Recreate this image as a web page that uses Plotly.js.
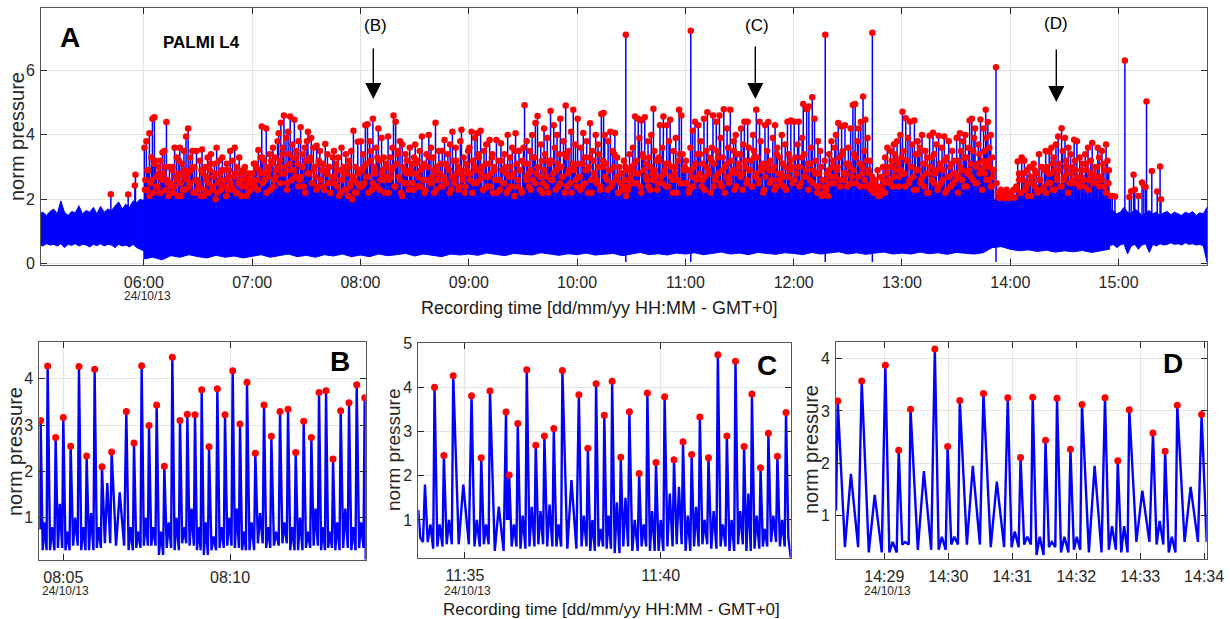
<!DOCTYPE html>
<html><head><meta charset="utf-8">
<script src="https://cdn.plot.ly/plotly-3.0.1.min.js"></script>
<style>html,body{margin:0;padding:0;background:#fff}#chart{width:1230px;height:619px}</style>
</head><body><div id="chart"></div>
<script>
// ===================== DATA =====================
// Panel A : quiet baseline before 06:00 (start 05:02, one sample every 2 min)
const preUpper = [1.55,1.6,1.5,1.62,1.7,1.55,1.95,1.6,1.5,1.62,1.58,1.8,1.55,1.65,1.6,1.75,1.55,1.78,1.6,1.7,1.65,1.8,1.92,1.7,1.85,1.75,1.95,1.9,2.0,1.95];
const preLower = [0.6,0.55,0.62,0.58,0.6,0.55,0.62,0.5,0.6,0.57,0.62,0.55,0.6,0.58,0.52,0.6,0.56,0.62,0.55,0.6,0.58,0.5,0.6,0.55,0.58,0.52,0.6,0.5,0.45,0.4];
// Panel A : lower edge of the active signal (06:00 .. 14:55, one sample every 5 min)
const activeLower = [
 0.15,0.2,0.12,0.25,0.2,0.28,0.22,0.18,0.26,0.2,0.24,0.18,
 0.22,0.28,0.2,0.25,0.3,0.22,0.26,0.2,0.28,0.24,0.3,0.22,
 0.27,0.22,0.3,0.25,0.28,0.32,0.24,0.3,0.26,0.22,0.3,0.27,
 0.3,0.26,0.33,0.28,0.25,0.32,0.29,0.27,0.34,0.3,0.26,0.31,
 0.28,0.33,0.27,0.3,0.32,0.25,0.3,0.35,0.28,0.31,0.27,0.33,
 0.3,0.34,0.28,0.32,0.36,0.3,0.33,0.28,0.35,0.31,0.29,0.34,
 0.32,0.28,0.35,0.3,0.33,0.37,0.3,0.34,0.29,0.33,0.36,0.3,
 0.33,0.3,0.36,0.31,0.34,0.29,0.35,0.32,0.3,0.34,0.5,0.53,
 0.45,0.4,0.43,0.38,0.42,0.36,0.4,0.37,0.41,0.35,0.39,0.45];
const activeTop = 2.0;
// Panel A : quiet baseline after 14:55 (one sample every 2 min)
const postUpper = [1.7,1.65,1.55,1.6,1.75,1.6,1.55,1.7,1.62,1.5,1.58,1.65,1.55,1.6,1.5,1.58,1.62,1.52,1.6,1.55,1.5,1.6,1.55,1.62,1.5,1.58,1.55,1.75];
const postLower = [0.55,0.6,0.5,0.58,0.62,0.3,0.55,0.6,0.45,0.58,0.62,0.35,0.6,0.55,0.62,0.58,0.6,0.65,0.6,0.62,0.58,0.65,0.6,0.62,0.58,0.6,0.55,0.05];

// Panel A : detected peaks, in time order, per window
const peaks0600 = [3.6,2.6,3.8,2.3,2.9,4.05,2.5,3.3,4.5,2.2,4.55,3.2,2.7,2.4,3.0,2.2,3.2,2.6,3.45,2.8,3.5,2.3,4.4,2.6,2.1,3.0,2.5];
const peaks0615 = [2.4,3.0,2.2,3.6,2.7,3.3,2.1,2.8,3.6,2.5,3.1,2.3,3.5,2.9,3.95,2.6,4.2,2.4,3.3,2.9,3.5,2.2,3.0,2.6,3.5,2.3];
const peaks0630 = [2.5,3.2,2.1,3.55,2.8,2.3,3.0,2.6,3.3,2.2,2.9,3.4,2.4,2.7,3.1,2.0,3.6,2.5,3.2,2.8,2.3,3.3,2.6,2.9];
const peaks0645 = [2.6,3.1,2.3,2.9,3.5,2.4,3.2,2.7,3.6,2.2,3.0,2.5,3.3,2.8,2.1,2.9,2.6,3.0,2.4,2.7,2.2,2.8,2.5,2.6];
const peaks0700 = [2.8,3.1,2.4,3.0,2.6,3.53,2.9,3.3,4.26,2.5,3.2,2.8,4.2,3.0,2.7,3.4,2.3,3.1,3.6,2.6,3.3,2.9,3.8,4.05];
const peaks0715 = [3.2,4.38,2.8,3.6,4.6,3.0,3.9,2.5,4.1,3.4,4.57,2.9,3.7,3.3,4.47,2.7,3.5,3.1,3.8,2.6,4.24,3.0,3.4,2.4,3.6,3.2];
const peaks0730 = [3.8,4.1,2.8,3.3,3.9,2.5,3.6,3.0,2.7,3.66,2.4,3.2,3.5,2.6,2.9,3.1,2.3,3.72,2.8,3.4,2.5,3.0,2.2,2.7,3.3];
const peaks0745 = [3.5,2.7,3.1,2.4,3.3,2.9,2.2,3.6,2.6,3.0,2.3,3.4,2.8,2.1,3.2,2.5,3.5,2.0,4.13,2.6,3.0,2.2,3.79,2.8,2.4];
const peaks0800 = [3.8,2.9,3.4,2.5,4.3,3.1,4.33,2.7,3.8,3.5,2.3,4.5,3.0,2.8,3.6,2.4,4.2,3.2,2.6,3.9,2.9,3.3,2.2,3.0,2.7];
const peaks0815 = [3.95,2.6,3.3,2.9,3.6,4.6,2.4,4.41,3.1,3.5,2.7,3.8,2.2,3.7,3.0,2.5,3.4,2.8,3.2,2.3,3.6,2.9,3.1,2.5,3.3];
const peaks0830 = [3.7,2.8,3.2,2.4,3.5,2.9,3.95,2.6,3.1,2.3,3.4,3.0,4.0,2.5,3.6,2.7,3.3,2.2,4.38,3.0,2.6,3.5,2.8,2.4];
const peaks0845 = [3.5,2.7,3.84,3.1,2.5,3.4,2.9,3.7,2.3,4.1,3.2,2.6,3.6,2.8,3.0,2.4,3.8,4.16,2.7,3.3,2.2,3.1,2.9,3.5];
const peaks0900 = [3.6,2.8,4.1,3.2,2.5,3.9,2.9,4.05,3.4,2.6,4.13,3.0,2.3,3.5,2.7,3.7,2.4,3.1,3.84,2.8,3.3,2.2,3.0,2.6];
const peaks0915 = [3.84,2.6,3.2,2.3,3.74,2.9,2.5,3.4,3.0,2.2,4.0,2.7,3.3,2.4,3.6,2.8,2.1,4.05,3.1,2.6,3.5,2.9,2.3,3.2];
const peaks0930 = [3.6,4.92,2.7,3.8,3.1,2.4,3.5,2.9,4.0,2.6,3.3,4.37,2.8,4.59,3.0,2.3,3.7,3.2,2.5,4.2,3.4,2.7,3.9,2.2,3.1];
const peaks0945 = [4.74,3.2,2.6,4.3,3.6,2.9,4.0,2.4,3.4,4.5,3.0,2.7,3.8,2.2,4.91,3.3,2.8,3.5,2.5,4.1,3.1,4.78,2.9,3.7,2.4];
const peaks1000 = [4.5,3.1,2.7,3.6,2.4,4.06,3.3,2.9,3.8,2.2,3.0,4.36,2.6,3.5,3.2,2.8,4.0,2.5,3.7,3.4,2.3,4.65,3.0,4.68];
const peaks1015 = [4.0,3.1,2.6,3.8,2.9,4.1,2.4,3.5,3.0,4.06,2.7,3.3,2.2,3.0,2.5,2.8,2.3,3.2,2.6,2.1,2.9,2.4,3.4,2.7];
const peaks1030 = [3.0,3.6,2.5,4.57,3.2,2.8,4.5,3.9,2.4,4.45,3.4,2.9,4.55,3.1,2.6,3.8,3.3,2.3,4.0,2.8,4.81,3.5,2.7,3.2,2.5];
const peaks1045 = [3.3,4.3,2.7,3.6,4.57,2.9,3.1,4.3,2.4,3.8,4.47,3.0,2.6,3.5,2.8,3.9,2.2,3.2,4.78,2.5,4.6,3.4,2.9,3.0];
const peaks1100 = [3.2,2.5,2.9,2.3,3.6,2.7,4.13,3.0,4.41,2.6,3.4,4.3,2.8,3.8,2.4,3.1,4.5,2.7,3.5,4.7,2.9,3.3,2.2,3.6];
const peaks1115 = [4.6,3.1,2.6,4.41,3.5,2.8,4.6,3.9,2.4,3.3,4.8,3.0,2.7,4.2,3.6,2.5,4.78,3.2,2.9,3.8,2.3,4.0,3.4,2.8,3.1];
const peaks1130 = [3.4,4.2,2.8,3.7,4.41,3.0,2.5,4.41,3.6,2.9,3.2,2.4,4.0,3.5,2.7,4.78,3.3,2.6,4.41,3.8,2.9,3.1,2.3,4.3,3.0];
const peaks1145 = [3.5,4.4,2.9,3.2,2.6,3.9,3.0,4.3,2.4,3.6,2.8,3.3,2.5,4.0,3.1,2.7,3.7,2.3,4.41,3.4,2.9,4.45,3.0,2.6];
const peaks1200 = [4.41,3.3,2.8,3.7,4.41,3.0,2.5,3.9,4.96,3.4,2.7,4.8,3.1,4.88,2.6,3.6,5.17,2.9,4.5,3.2,2.4,3.8,2.8,3.5];
const peaks1215 = [3.0,2.6,2.2,3.2,2.4,2.8,2.1,3.4,2.7,3.8,3.0,2.5,3.6,4.0,2.9,4.37,3.3,2.6,4.26,3.5,2.8,4.3,3.1,2.4];
const peaks1230 = [3.6,3.0,4.2,2.7,4.93,3.4,4.96,2.5,3.8,4.2,3.1,4.4,2.8,5.19,3.5,4.47,2.4,3.9,2.9,3.2,2.3,2.7,2.5,2.2];
const peaks1245 = [2.6,2.2,2.9,2.4,2.1,2.7,2.3,3.0,2.5,3.3,2.8,3.6,3.0,2.6,3.5,3.2,2.4,3.7,3.4,2.9,3.8,3.1,2.7,4.0,3.3];
const peaks1300 = [4.72,3.5,2.8,4.52,3.2,3.9,2.5,4.41,3.0,3.7,2.7,4.45,3.4,2.3,3.8,2.9,3.6,2.6,4.0,3.1,2.4,3.5,2.8,3.3,2.2];
const peaks1315 = [3.97,3.0,2.6,4.07,3.4,2.8,3.7,2.3,3.97,3.1,2.5,3.6,2.9,3.95,2.2,3.3,2.7,3.8,3.0,2.4,3.5,2.8,3.2,2.6];
const peaks1330 = [3.9,3.2,2.7,4.05,3.5,2.9,3.8,2.4,4.0,3.3,2.8,3.6,4.45,3.1,4.5,2.6,3.9,4.2,3.0,2.5,3.7,3.4,4.48,2.9,3.2];
const peaks1345 = [4.2,3.5,2.8,4.78,3.9,3.1,4.4,2.6,3.6,3.0,4.0,2.4,3.3,2.7,2.9];
const peaks1352 = [2.5,2.2,2.04,2.3,2.1,2.2,2.04,2.3,2.1,2.04,2.2,2.1,2.3,2.05];
const peaks1403 = [2.4,3.17,2.8,2.2,3.3,2.6,3.2,2.3,2.9,2.5,3.0,2.1,2.7,3.1,2.4,2.8,2.2,3.4,2.6,3.0,2.3,2.9,3.5];
const peaks1420 = [3.0,2.5,3.48,2.8,3.6,2.3,3.3,2.9,3.7,2.6,3.95,3.1,2.4,4.21,3.5,2.7,3.9,3.2,2.8,3.6,2.5,3.4,3.0,2.6];
const peaks1435 = [3.85,2.9,3.8,2.5,3.3,2.7,3.1,2.4,3.4,2.9,3.6,2.6,3.2,3.75,2.8,3.0,2.5,3.6,3.3,2.7,3.5,3.1,2.4,3.7,3.2,2.9];
// Panel A : the many lower peaks (dense red band), in time order per hour window
const lows06 = [2.3,2.9,2.1,2.6,3.1,2.4,2.8,2.2,2.7,3.0,2.5,2.2,2.9,2.4,2.6,3.2,2.1,2.7,2.3,2.8,2.5,3.0,2.2,2.6,2.4,2.9,2.1,2.7,2.5,3.1,2.3,2.8,2.2,2.6,2.9,2.4,2.1,2.7,2.5,2.3,2.8,2.2,2.6,2.4,2.9,2.1,2.5,2.3];
const lows07 = [2.5,3.1,2.3,2.8,3.3,2.6,2.2,2.9,3.2,2.4,2.7,3.0,2.5,3.4,2.8,2.3,3.1,2.6,2.9,3.3,2.4,2.7,3.0,2.2,2.8,3.2,2.5,2.9,2.3,3.1,2.6,2.4,2.8,3.0,2.2,2.7,2.5,2.9,2.1,2.6,2.8,2.3,3.0,2.4,2.7,2.2,2.5,2.9];
const lows08 = [2.4,3.0,2.7,2.2,3.2,2.5,2.9,3.3,2.3,2.8,2.6,3.1,2.2,2.7,3.0,2.4,3.4,2.6,2.1,2.9,3.2,2.5,2.8,2.3,3.1,2.7,2.4,3.0,2.2,2.6,3.3,2.5,2.9,2.3,2.8,3.1,2.4,2.6,3.0,2.2,2.7,2.5,3.2,2.3,2.9,2.6,2.4,2.8];
const lows09 = [2.6,2.2,3.0,2.5,3.3,2.8,2.3,3.1,2.7,2.4,3.4,2.9,2.2,2.6,3.2,2.5,2.8,2.3,3.0,2.7,3.5,2.4,2.9,2.2,3.1,2.6,2.8,2.3,3.3,2.5,3.0,2.7,2.2,2.9,2.4,3.2,2.6,2.8,2.3,3.1,2.5,2.7,3.4,2.4,2.9,2.2,3.0,2.6];
const lows10 = [2.7,2.3,3.1,2.5,2.9,3.3,2.2,2.8,2.6,3.0,2.4,3.2,2.7,2.3,2.9,2.5,3.4,2.6,2.2,2.8,2.4,3.0,2.3,2.6,2.9,3.1,2.5,2.8,2.2,3.3,2.7,2.4,3.0,2.6,2.9,2.3,3.2,2.5,2.8,2.4,3.1,2.7,2.2,3.0,2.6,3.4,2.5,2.9];
const lows11 = [2.5,2.2,2.9,2.4,3.1,2.7,3.4,2.6,2.3,3.0,2.8,3.2,2.4,2.7,3.3,2.5,2.9,2.2,3.1,2.6,2.8,3.5,2.4,3.0,2.7,2.3,3.2,2.6,2.9,2.4,3.3,2.8,2.5,3.0,2.2,2.7,3.1,2.5,2.9,2.3,3.4,2.6,2.8,2.4,3.0,2.7,3.2,2.5];
const lows12 = [2.6,3.0,2.4,3.3,2.7,2.9,2.3,3.1,2.5,2.8,2.2,2.4,2.1,2.6,2.3,2.9,2.5,3.2,2.7,3.0,2.4,3.4,2.6,2.8,3.1,2.5,2.9,3.3,2.7,2.4,3.0,2.6,3.2,2.8,2.5,2.2,2.4,2.1,2.3,2.6,2.2,2.8,2.5,3.0,2.7,3.2,2.4,2.9];
const lows13 = [2.8,2.4,3.2,2.6,3.0,2.3,2.9,3.4,2.5,2.7,3.1,2.2,2.8,3.3,2.5,2.9,2.4,3.0,2.6,3.2,2.3,2.7,3.1,2.5,2.8,2.2,3.0,2.6,3.3,2.4,2.9,2.7,3.5,2.5,3.1,2.8,2.3,3.0,2.6,3.2,2.4,2.9];
const lows14 = [2.3,2.6,2.2,2.8,2.4,2.1,2.7,2.5,2.9,2.3,2.6,3.0,2.4,2.2,2.8,2.5,3.1,2.3,2.7,2.9,2.4,2.6,3.0,2.2,2.8,2.5,3.2,2.7,2.4,2.9,2.6,3.1,2.3,2.8,2.5,2.7,3.0,2.4,2.6,2.9,2.2,2.5];

// Panel A : isolated tall peaks
const spikeTimes = ['10:27:00','11:03:00','12:17:30','12:43:36','13:52:06'];
const spikeVals  = [7.11,7.23,7.11,7.17,6.1];
// Panel A : peaks in the quiet parts
const preTimes  = ['05:41:42','05:51:18','05:55:00','05:55:20'];
const preVals   = [2.16,2.15,2.43,2.76];
const postTimes = ['14:55:40','14:56:30','14:58:00','15:03:30','15:06:00','15:07:00','15:08:20','15:09:00','15:11:00','15:13:00','15:14:00','15:15:00','15:15:30','15:18:25','15:21:25','15:23:00','15:23:30'];
const postVals  = [2.1,2.1,2.09,6.31,2.07,2.25,2.76,2.3,2.1,2.52,2.43,2.38,5.04,2.88,2.24,3.02,2.0];

// Panel B (minutes after 08:00)
const bPeakT = [4.32,4.53,4.77,5.00,5.22,5.47,5.70,5.94,6.16,6.45,6.89,7.12,7.35,7.57,7.80,8.03,8.27,8.50,8.72,8.95,9.15,9.37,9.62,9.85,10.08,10.30,10.51,10.76,11.02,11.24,11.50,11.74,11.97,12.21,12.44,12.67,12.88,13.09,13.32,13.57,13.80,14.04];
const bPeakV = [3.10,4.27,2.73,3.16,2.54,4.26,2.33,4.20,2.10,2.42,3.29,2.61,4.28,2.99,3.43,2.11,4.46,3.10,3.23,3.22,3.76,2.53,3.78,3.22,4.17,3.02,3.92,2.39,3.43,2.76,3.29,3.34,2.41,3.08,2.73,3.70,3.74,2.27,3.31,3.48,3.87,3.59];
const bTrough = [0.3,0.3,0.35,0.3,0.4,0.3,0.3,0.35,0.45,0.4,0.3,0.35,0.4,0.4,0.2,0.35,0.3,0.45,0.4,0.3,0.2,0.3,0.35,0.4,0.35,0.3,0.3,0.45,0.35,0.4,0.45,0.3,0.3,0.35,0.4,0.3,0.35,0.3,0.35,0.3,0.35];
const bBump   = [0.9,0.8,1.3,0.7,1.0,0.8,1.1,0.8,1.75,1.55,0.8,0.7,1.0,0.8,0.7,0.9,1.0,0.8,1.2,0.8,0.9,0.6,0.8,1.0,1.2,0.7,0.9,1.1,0.8,0.7,0.9,0.8,1.0,0.7,1.2,0.8,0.7,0.9,1.2,0.8,0.9];
const bLeadT = [4.28,4.30], bLeadV = [1.75,0.75];
const bTailT = [14.07],     bTailV = [0.1];

// Panel C (minutes after 11:30)
const cPeakT = [4.225,4.463,4.702,5.17,5.417,5.64,6.05,6.13,6.35,6.58,6.81,7.03,7.27,7.49,7.91,8.14,8.35,8.56,8.76,8.98,9.2,9.45,9.66,9.88,10.1,10.34,10.57,10.79,11.0,11.22,11.46,11.69,11.91,12.13,12.33,12.55,12.75,12.98,13.2];
const cPeakV = [4.0,2.46,4.26,3.81,2.41,3.92,3.44,2.02,3.18,4.40,2.69,2.90,3.07,4.38,3.83,2.62,4.08,3.37,4.14,2.42,3.45,2.05,3.87,2.30,3.79,2.36,2.77,2.48,3.33,2.41,4.74,2.90,4.59,2.66,3.85,2.18,2.96,2.44,3.43];
const cTrough = [0.4,0.45,0.45,0.4,0.45,0.3,1.0,0.4,0.35,0.4,0.45,0.4,0.4,0.35,0.4,0.3,0.4,0.35,0.25,0.4,0.3,0.4,0.3,0.3,0.4,0.45,0.3,0.4,0.45,0.35,0.4,0.3,0.45,0.3,0.35,0.4,0.5,0.4];
const cBump   = [0.9,1.0,1.8,1.0,0.9,1.3,1.2,0.9,1.1,1.3,1.2,1.35,0.9,1.9,1.1,1.0,0.8,1.1,1.4,1.5,1.0,0.9,1.2,1.0,1.6,1.75,1.1,1.3,1.0,1.2,0.9,1.0,1.2,1.6,1.1,0.8,1.1,1.0];
const cLeadT = [3.81,3.86,3.93,3.98,4.05,4.12,4.19], cLeadV = [1.23,0.6,0.5,1.8,0.5,0.9,0.35];
const cTailT = [13.26,13.32], cTailV = [0.6,0.15];

// Panel D (minutes after 14:25)
const dPeakT = [3.272,3.647,4.016,4.225,4.41,4.79,4.99,5.18,5.55,5.93,6.13,6.32,6.52,6.70,6.91,7.09,7.45,7.65,7.83,8.2,8.39,8.58,8.96];
const dPeakV = [3.19,3.57,3.87,2.25,3.03,4.18,2.32,3.20,3.33,3.25,2.11,3.26,2.44,3.24,2.27,3.12,3.25,2.05,3.02,2.58,2.23,3.11,2.93];
const dTrough = [0.4,0.3,0.3,0.45,0.35,0.35,0.45,0.45,0.4,0.4,0.45,0.25,0.4,0.3,0.35,0.3,0.35,0.3,0.5,0.45,0.3,0.5];
const dBump   = [1.8,1.4,0.5,0.5,1.85,0.6,0.6,1.95,1.65,0.7,0.6,0.6,0.5,0.6,0.6,1.95,0.8,0.8,1.48,0.9,0.6,1.55];
const dLeadT = [3.245], dLeadV = [1.1];
const dTailT = [9.04],  dTailV = [0.5];

// tick labels
const aTicks = ['06:00','07:00','08:00','09:00','10:00','11:00','12:00','13:00','14:00','15:00'];
const bTicks = ['08:05','08:10'];
const cTicks = ['11:35','11:40'];
const dTicks = ['14:29','14:30','14:31','14:32','14:33','14:34'];

// ===================== BUILD =====================
const BLUE = '#0000ff', RED = '#ff0000';
const FONT = 'Liberation Sans, Arial, Helvetica, sans-serif';
function toMin(s){const p=s.split(':').map(Number);return p[0]*60+p[1]+(p[2]||0)/60;}
function dt(min){const ms=Math.round(min*60000);const d=new Date(Date.UTC(2013,9,24)+ms);return d.toISOString().slice(0,23).replace('T',' ');}

const segments = [
 ['06:00','06:15',peaks0600],['06:15','06:30',peaks0615],['06:30','06:45',peaks0630],['06:45','07:00',peaks0645],
 ['07:00','07:15',peaks0700],['07:15','07:30',peaks0715],['07:30','07:45',peaks0730],['07:45','08:00',peaks0745],
 ['08:00','08:15',peaks0800],['08:15','08:30',peaks0815],['08:30','08:45',peaks0830],['08:45','09:00',peaks0845],
 ['09:00','09:15',peaks0900],['09:15','09:30',peaks0915],['09:30','09:45',peaks0930],['09:45','10:00',peaks0945],
 ['10:00','10:15',peaks1000],['10:15','10:30',peaks1015],['10:30','10:45',peaks1030],['10:45','11:00',peaks1045],
 ['11:00','11:15',peaks1100],['11:15','11:30',peaks1115],['11:30','11:45',peaks1130],['11:45','12:00',peaks1145],
 ['12:00','12:15',peaks1200],['12:15','12:30',peaks1215],['12:30','12:45',peaks1230],['12:45','13:00',peaks1245],
 ['13:00','13:15',peaks1300],['13:15','13:30',peaks1315],['13:30','13:45',peaks1330],['13:45','13:51',peaks1345],
 ['13:52','14:03',peaks1352],['14:03','14:20',peaks1403],['14:20','14:35',peaks1420],['14:35','14:55',peaks1435],
 ['06:00','07:00',lows06],['07:00','08:00',lows07],['08:00','09:00',lows08],['09:00','10:00',lows09],
 ['10:00','11:00',lows10],['11:00','12:00',lows11],['12:00','13:00',lows12],['13:00','13:51',lows13],['14:03','14:55',lows14]
];

function band(startMin, step, upper, lower){
  const xs=[], ys=[];
  upper.forEach((v,i)=>{xs.push(dt(startMin+i*step));ys.push(v);});
  for(let i=lower.length-1;i>=0;i--){xs.push(dt(startMin+i*step));ys.push(lower[i]);}
  xs.push(xs[0]); ys.push(ys[0]);
  return {x:xs,y:ys,type:'scatter',mode:'lines',fill:'toself',fillcolor:BLUE,line:{color:BLUE,width:1},hoverinfo:'skip',showlegend:false,xaxis:'x',yaxis:'y'};
}
const preBand = band(toMin('05:02'),2,preUpper,preLower);
const actBand = band(toMin('06:00'),5,activeLower.map(()=>activeTop),activeLower);
const postBand = band(toMin('14:55'),2,postUpper,postLower);

const dotX=[],dotY=[],stX=[],stY=[];
function addPeak(t,v,base){dotX.push(t);dotY.push(v);stX.push(t,t,null);stY.push(base,v,null);}
segments.forEach(([s,e,vals])=>{const a=toMin(s),b=toMin(e),n=vals.length;vals.forEach((v,j)=>addPeak(dt(a+(j+0.5)*(b-a)/n),v,1.95));});
spikeTimes.forEach((t,i)=>addPeak(dt(toMin(t)),spikeVals[i],0.05));
preTimes.forEach((t,i)=>addPeak(dt(toMin(t)),preVals[i],1.5));
postTimes.forEach((t,i)=>addPeak(dt(toMin(t)),postVals[i],1.45));

const stemsA = {x:stX,y:stY,type:'scatter',mode:'lines',line:{color:BLUE,width:1.5},hoverinfo:'skip',showlegend:false,xaxis:'x',yaxis:'y',connectgaps:false};
const dotsA = {x:dotX,y:dotY,type:'scatter',mode:'markers',marker:{color:RED,size:6.5},showlegend:false,xaxis:'x',yaxis:'y'};

function wave(base, leadT, leadV, pT, pV, tr, bu, tailT, tailV, xa, ya){
  const b = toMin(base); const xs=[], ys=[];
  leadT.forEach((t,i)=>{xs.push(dt(b+t));ys.push(leadV[i]);});
  pT.forEach((t,i)=>{
    xs.push(dt(b+t)); ys.push(pV[i]);
    if(i<pT.length-1){
      const D=pT[i+1]-t;
      xs.push(dt(b+t+0.3*D)); ys.push(tr[i]);
      xs.push(dt(b+t+0.55*D)); ys.push(bu[i]);
      xs.push(dt(b+t+0.85*D)); ys.push(tr[i]);
    }
  });
  tailT.forEach((t,i)=>{xs.push(dt(b+t));ys.push(tailV[i]);});
  return [
    {x:xs,y:ys,type:'scatter',mode:'lines',line:{color:BLUE,width:2.4},hoverinfo:'skip',showlegend:false,xaxis:xa,yaxis:ya},
    {x:pT.map(t=>dt(b+t)),y:pV,type:'scatter',mode:'markers',marker:{color:RED,size:7},showlegend:false,xaxis:xa,yaxis:ya}
  ];
}
const waveB = wave('08:00',bLeadT,bLeadV,bPeakT,bPeakV,bTrough,bBump,bTailT,bTailV,'x2','y2');
const waveC = wave('11:30',cLeadT,cLeadV,cPeakT,cPeakV,cTrough,cBump,cTailT,cTailV,'x3','y3');
const waveD = wave('14:25',dLeadT,dLeadV,dPeakT,dPeakV,dTrough,dBump,dTailT,dTailV,'x4','y4');

// ===================== LAYOUT =====================
const W=1230,H=619;
const px=x=>x/W, py=y=>1-y/H;
const tickFont={family:FONT,size:16,color:'#262626'};
function xax(range,dom,ticks,anchor){
  return {type:'date',range,domain:dom,anchor,tickmode:'array',tickvals:ticks.map(t=>dt(toMin(t))),ticktext:ticks,
    showgrid:true,gridcolor:'#e4e4e4',gridwidth:1,ticks:'inside',ticklen:6,tickcolor:'#262626',tickwidth:1,
    showline:true,linecolor:'#555555',linewidth:1,mirror:'ticks',zeroline:false,tickfont:tickFont,ticklabelstandoff:3};
}
function yax(range,dom,ticks,anchor){
  return {range,domain:dom,anchor,tickmode:'array',tickvals:ticks,ticktext:ticks.map(String),
    showgrid:true,gridcolor:'#e4e4e4',gridwidth:1,ticks:'inside',ticklen:6,tickcolor:'#262626',tickwidth:1,
    showline:true,linecolor:'#555555',linewidth:1,mirror:'ticks',zeroline:false,tickfont:tickFont,ticklabelstandoff:2};
}
function txt(x,y,text,size,opts){return Object.assign({xref:'paper',yref:'paper',x:px(x),y:py(y),text,showarrow:false,xanchor:'center',yanchor:'middle',font:{family:FONT,size,color:'#000'}},opts||{});}
function arrow(x,yTip,len){return {xref:'paper',yref:'paper',x:px(x),y:py(yTip),ax:0,ay:-len,text:'',showarrow:true,arrowhead:2,arrowsize:2.3,arrowwidth:1.4,arrowcolor:'#000'};}
const grey = s=>({font:{family:FONT,size:s,color:'#262626'}});

const layout = {
  width:W,height:H,margin:{l:0,r:0,t:0,b:0},paper_bgcolor:'#fff',plot_bgcolor:'#fff',showlegend:false,
  font:{family:FONT,color:'#262626'},
  xaxis: xax([dt(toMin('05:03')),dt(toMin('15:49'))],[px(41),px(1207)],aTicks,'y'),
  yaxis: yax([-0.04,7.94],[py(265),py(8)],[0,2,4,6],'x'),
  xaxis2: xax([dt(toMin('08:04')+0.28),dt(toMin('08:14')+0.07)],[px(39.3),px(365.7)],bTicks,'y2'),
  yaxis2: yax([0.09,4.79],[py(560),py(342)],[1,2,3,4],'x2'),
  xaxis3: xax([dt(toMin('11:33')+0.81),dt(toMin('11:43')+0.32)],[px(418.3),px(790.7)],cTicks,'y3'),
  yaxis3: yax([0.14,5.01],[py(558),py(342.7)],[1,2,3,4,5],'x3'),
  xaxis4: xax([dt(toMin('14:28')+0.245),dt(toMin('14:34')+0.04)],[px(836),px(1206.7)],dTicks,'y4'),
  yaxis4: yax([0.175,4.32],[py(559),py(341.7)],[1,2,3,4],'x4'),
  annotations:[
    txt(70,37,'<b>A</b>',28),
    txt(201,42,'<b>PALMI L4</b>',17),
    txt(375,25,'(B)',17), txt(757,25,'(C)',17), txt(1056,23,'(D)',17),
    arrow(373.3,99,52), arrow(755.3,99,54), arrow(1056.3,102,54),
    txt(340,361,'<b>B</b>',28), txt(767,365,'<b>C</b>',28), txt(1173,363,'<b>D</b>',28),
    txt(147,296,'24/10/13',12,grey(12)),
    txt(65,591,'24/10/13',12,grey(12)),
    txt(467,591,'24/10/13',12,grey(12)),
    txt(887,591,'24/10/13',12,grey(12)),
    txt(17,137,'norm pressure',20,Object.assign({textangle:-90},grey(20))),
    txt(15,452,'norm pressure',20,Object.assign({textangle:-90},grey(20))),
    txt(393,450,'norm pressure',19,Object.assign({textangle:-90},grey(19))),
    txt(811,450,'norm pressure',20,Object.assign({textangle:-90},grey(20))),
    txt(599,308,'Recording time [dd/mm/yy HH:MM - GMT+0]',18,{font:{family:FONT,size:18,color:'#1a1a1a'}}),
    txt(611,609,'Recording time [dd/mm/yy HH:MM - GMT+0]',17,{font:{family:FONT,size:17,color:'#1a1a1a'}})
  ]
};

Plotly.newPlot('chart',[preBand,actBand,postBand,stemsA,dotsA,...waveB,...waveC,...waveD],layout,{displayModeBar:false,staticPlot:true});
</script></body></html>
